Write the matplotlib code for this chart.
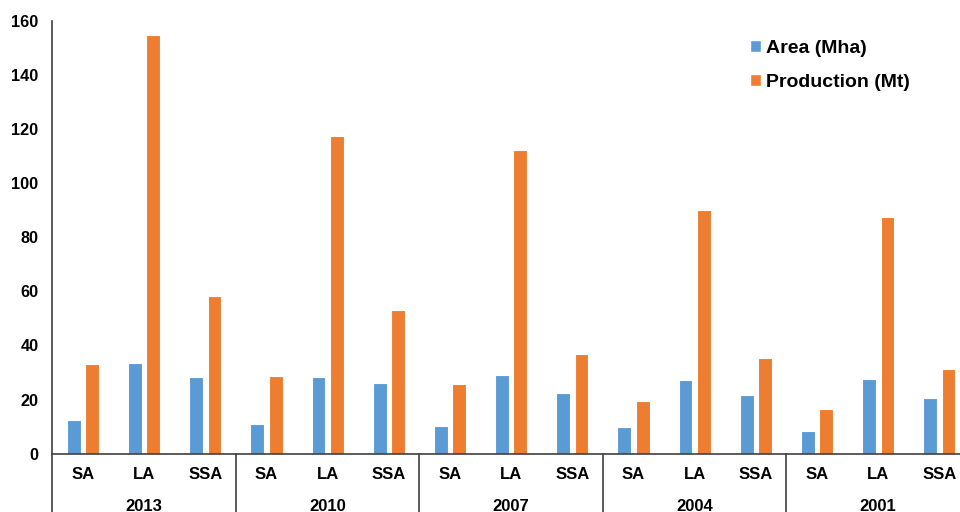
import matplotlib
matplotlib.use("Agg")
import matplotlib.pyplot as plt
import matplotlib.transforms as mtransforms
from matplotlib.patches import Patch
import numpy as np

years = ['2013', '2010', '2007', '2004', '2001']
regions = ['SA', 'LA', 'SSA']
area = [12.5, 33.6, 28.2, 10.9, 28.2, 26.2, 10.3, 29.2, 22.5, 9.9, 27.2, 21.6, 8.3, 27.6, 20.6]
production = [33.0, 154.7, 58.4, 28.7, 117.3, 53.2, 25.6, 112.1, 36.8, 19.5, 90.2, 35.4, 16.4, 87.6, 31.3]
series_names = ['Area (Mha)', 'Production (Mt)']
colors = ['#5B9BD5', '#ED7D31']
yticks = [0, 20, 40, 60, 80, 100, 120, 140, 160]

plt.rcParams['font.family'] = ['Liberation Sans', 'DejaVu Sans']
plt.rcParams['font.weight'] = 'bold'

W, H = 960, 512
fig = plt.figure(figsize=(W / 100, H / 100), dpi=100)
left, right, top, bottom = 52.4, 970.0, 20.7, 453.7
ax = fig.add_axes([left / W, 1 - bottom / H, (right - left) / W, (bottom - top) / H])

n = len(area)
x = np.arange(n)
w = 0.225
off = 0.15
ax.bar(x - off, area, width=w, color=colors[0], edgecolor='white', linewidth=0.8, zorder=2)
ax.bar(x + off, production, width=w, color=colors[1], edgecolor='white', linewidth=0.8, zorder=2)

ax.set_xlim(-0.5, n - 0.5)
ax.set_ylim(0, 160)
ax.set_yticks(yticks)
ax.set_yticklabels([str(t) for t in yticks], fontsize=11.7, fontweight='bold')
ax.tick_params(axis='y', length=0, pad=10)
ax.set_xticks([])
for s in ['top', 'right']:
    ax.spines[s].set_visible(False)
for s in ['left', 'bottom']:
    ax.spines[s].set_color('#404040')
    ax.spines[s].set_linewidth(1.2)

trans = mtransforms.blended_transform_factory(ax.transData, ax.transAxes)
# category labels
for i in range(n):
    ax.text(x[i], -0.049, regions[i % 3], transform=trans, ha='center', va='center',
            fontsize=12, fontweight='bold')
# year labels and separators
for g, yr in enumerate(years):
    ax.text(g * 3 + 1, -0.121, yr, transform=trans, ha='center', va='center',
            fontsize=12, fontweight='bold')
for g in range(len(years) + 1):
    xs = g * 3 - 0.5
    ax.plot([xs, xs], [0, -0.2], transform=trans, color='#404040', lw=1.2, clip_on=False)

handles = [Patch(facecolor=colors[0], edgecolor='white'), Patch(facecolor=colors[1], edgecolor='white')]
fig.legend(handles, series_names, loc='upper left', bbox_to_anchor=(740 / W, 1 - 30 / H),
           frameon=False, borderpad=0, handlelength=0.6, handleheight=0.6,
           handletextpad=0.22, labelspacing=0.88, prop={'size': 14, 'weight': 'bold'})

fig.savefig('out.png', dpi=100)
